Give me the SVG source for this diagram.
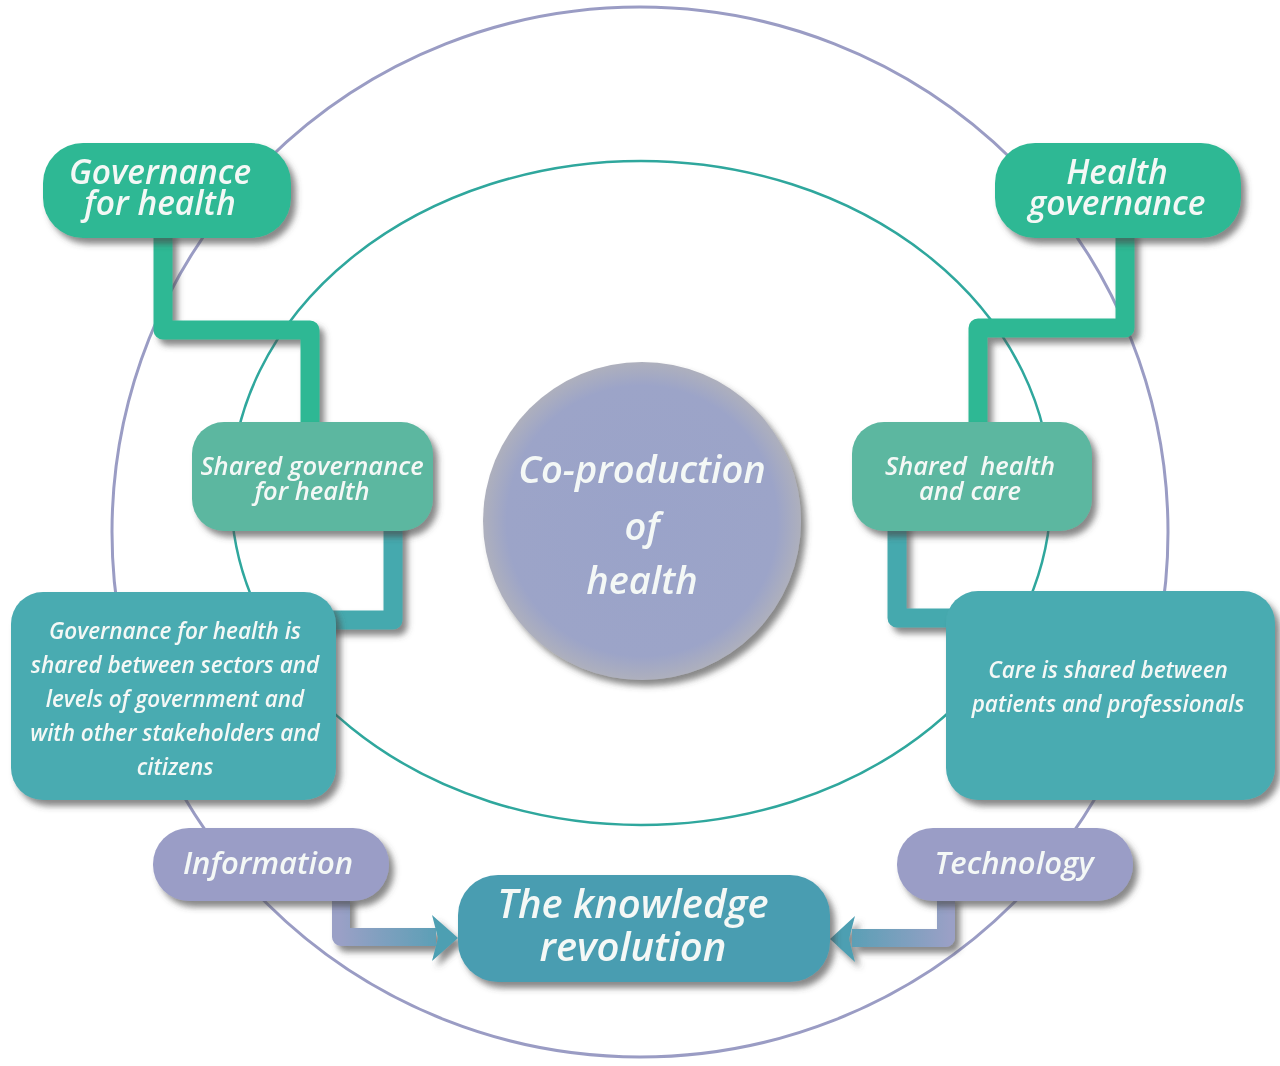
<svg xmlns="http://www.w3.org/2000/svg" width="1280" height="1066" viewBox="0 0 1280 1066">
<defs>
<filter id="sh" x="-20%" y="-20%" width="140%" height="150%">
<feDropShadow dx="5" dy="6" stdDeviation="3" flood-color="#4a4a4a" flood-opacity="0.65"/>
</filter>
<radialGradient id="ball" cx="50%" cy="50%" r="50%">
<stop offset="0" stop-color="#9aa3c9"/>
<stop offset="0.85" stop-color="#9ca4c8"/>
<stop offset="1" stop-color="#aeb0bd"/>
</radialGradient>
<linearGradient id="gl" gradientUnits="userSpaceOnUse" x1="340" y1="0" x2="460" y2="0">
<stop offset="0" stop-color="#9aa0c6"/>
<stop offset="1" stop-color="#4d9fb2"/>
</linearGradient>
<linearGradient id="gr" gradientUnits="userSpaceOnUse" x1="950" y1="0" x2="830" y2="0">
<stop offset="0" stop-color="#9aa0c6"/>
<stop offset="1" stop-color="#4d9fb2"/>
</linearGradient>
</defs>
<style>
.t{font-family:"Open Sans","Lato","Noto Sans",sans-serif;font-weight:600;font-style:italic;fill:#f4f8f6;text-anchor:middle}
.green{fill:#2fb894}
.mid{fill:#5cb7a0}
.teal{fill:#4aabb1}
.lav{fill:#9a9dc6}
.know{fill:#4a9db1}
.cg{fill:none;stroke:#2fb894;stroke-width:19;stroke-linejoin:round}
.ct{fill:none;stroke:#45a9ae;stroke-width:19;stroke-linejoin:round}
</style>
<rect width="1280" height="1066" fill="#ffffff"/>
<g id="rings">
<ellipse cx="640" cy="532" rx="528" ry="525" fill="none" stroke="#9a9cc4" stroke-width="3"/>
<ellipse cx="641" cy="493" rx="410" ry="332" fill="none" stroke="#2fa79d" stroke-width="2.5"/>
</g>
<g id="connectors" filter="url(#sh)">
<path class="cg" d="M163,230 V330 H310 V430"/>
<path class="ct" d="M393,520 V620 H320"/>
<path class="cg" d="M1125,230 V328 H978 V430"/>
<path class="ct" d="M897,520 V618 H960"/>
<path d="M341,895 V937 H436" fill="none" stroke="url(#gl)" stroke-width="18" stroke-linejoin="round"/>
<polygon points="432,915 458,938 432,961 438,938" fill="#4d9fb2"/>
<path d="M946,895 V938 H852" fill="none" stroke="url(#gr)" stroke-width="18" stroke-linejoin="round"/>
<polygon points="855,916 830,939 855,962 849,939" fill="#4d9fb2"/>
</g>
<g id="governance-for-health" filter="url(#sh)">
<rect class="green" x="43" y="143" width="248" height="95" rx="40"/>
<text class="t" x="160" y="184" font-size="33.5">Governance</text>
<text class="t" x="160" y="215" font-size="33.5">for health</text>
</g>
<g id="health-governance" filter="url(#sh)">
<rect class="green" x="995" y="143" width="246" height="95" rx="40"/>
<text class="t" x="1117" y="184" font-size="33.5">Health</text>
<text class="t" x="1117" y="215" font-size="33.5">governance</text>
</g>
<g id="shared-governance" filter="url(#sh)">
<rect class="mid" x="192" y="422" width="241" height="109" rx="32"/>
<text class="t" x="312" y="475" font-size="25.5">Shared governance</text>
<text class="t" x="312" y="500" font-size="25.5">for health</text>
</g>
<g id="shared-health-care" filter="url(#sh)">
<rect class="mid" x="852" y="422" width="240" height="109" rx="32"/>
<text class="t" x="970" y="475" font-size="25.5" xml:space="preserve">Shared  health</text>
<text class="t" x="970" y="500" font-size="25.5">and care</text>
</g>
<g id="governance-desc" filter="url(#sh)">
<rect class="teal" x="11" y="592" width="325" height="208" rx="32"/>
<text class="t" x="175" y="639" font-size="22.5">Governance for health is</text>
<text class="t" x="175" y="673" font-size="22.5">shared between sectors and</text>
<text class="t" x="175" y="707" font-size="22.5">levels of government and</text>
<text class="t" x="175" y="741" font-size="22.5">with other stakeholders and</text>
<text class="t" x="175" y="775" font-size="22.5">citizens</text>
</g>
<g id="care-desc" filter="url(#sh)">
<rect class="teal" x="946" y="591" width="329" height="209" rx="32"/>
<text class="t" x="1108" y="678" font-size="22.5">Care is shared between</text>
<text class="t" x="1108" y="712" font-size="22.5">patients and professionals</text>
</g>
<g id="information" filter="url(#sh)">
<rect class="lav" x="153" y="828" width="236" height="73" rx="36"/>
<text class="t" x="268" y="874" font-size="31">Information</text>
</g>
<g id="technology" filter="url(#sh)">
<rect class="lav" x="897" y="828" width="236" height="73" rx="36"/>
<text class="t" x="1014" y="874" font-size="31">Technology</text>
</g>
<g id="knowledge-revolution" filter="url(#sh)">
<rect class="know" x="458" y="875" width="372" height="107" rx="40"/>
<text class="t" x="633" y="918" font-size="40">The knowledge</text>
<text class="t" x="633" y="961" font-size="40">revolution</text>
</g>
<g id="co-production" filter="url(#sh)">
<circle cx="642" cy="521" r="159" fill="url(#ball)"/>
<text class="t" x="642" y="483" font-size="38" font-style="normal">Co-production</text>
<text class="t" x="642" y="540" font-size="38">of</text>
<text class="t" x="642" y="594" font-size="38">health</text>
</g>
</svg>
